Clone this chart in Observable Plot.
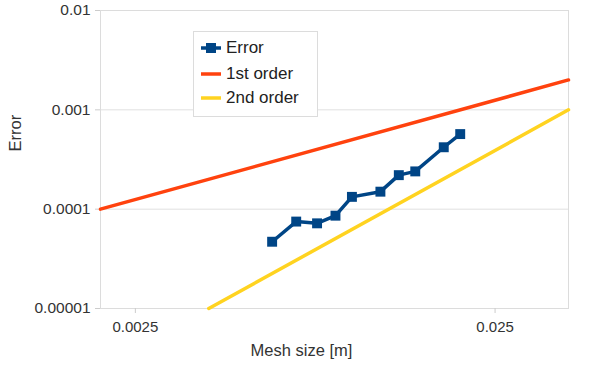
<!DOCTYPE html>
<html><head><meta charset="utf-8">
<script src="https://cdn.jsdelivr.net/npm/d3@7"></script>
<script src="https://cdn.jsdelivr.net/npm/@observablehq/plot@0.6"></script>
<style>
body{margin:0;background:#fff;font-family:"Liberation Sans",Arial,sans-serif;}
#wrap{position:relative;width:600px;height:365px;}
#legend{position:absolute;left:193px;top:31px;width:125px;height:86px;border:1px solid #dcdcdc;background:#fff;box-sizing:border-box;font-size:17px;color:#222;}
.item{position:absolute;left:6px;height:20px;display:flex;align-items:center;}
.item svg{margin-right:4px;}
</style></head>
<body><div id="wrap"></div>
<script>
// Error data (mesh size h, error e)
const meshSize = [0.006, 0.007, 0.008, 0.009, 0.010, 0.012, 0.0135, 0.015, 0.018, 0.020];
const errorValues = [4.7e-5, 7.5e-5, 7.2e-5, 8.6e-5, 1.33e-4, 1.5e-4, 2.2e-4, 2.4e-4, 4.2e-4, 5.7e-4];
// reference slopes
const firstOrderH = [0.002, 0.04];
const firstOrderE = [1e-4, 2e-3];
const secondOrderH = [0.004, 0.04];
const secondOrderE = [1e-5, 1e-3];
// ticks
const xTicks = [0.0025, 0.025];
const xTickLabels = ["0.0025", "0.025"];
const yTicks = [1e-5, 1e-4, 1e-3, 1e-2];
const yTickLabels = ["0.00001", "0.0001", "0.001", "0.01"];
const seriesNames = ["Error", "1st order", "2nd order"];
const seriesColors = ["#004586", "#ff420e", "#ffd320"];

const errData = meshSize.map((h, i) => ({h, e: errorValues[i]}));
const first = firstOrderH.map((h, i) => ({h, e: firstOrderE[i]}));
const second = secondOrderH.map((h, i) => ({h, e: secondOrderE[i]}));

function labeler(ticks, labels) {
  return d => {
    let best = 0;
    ticks.forEach((t, i) => { if (Math.abs(Math.log(t) - Math.log(d)) < Math.abs(Math.log(ticks[best]) - Math.log(d))) best = i; });
    return labels[best];
  };
}

const chart = Plot.plot({
  width: 600, height: 365,
  marginLeft: 100, marginRight: 32, marginTop: 10, marginBottom: 57,
  style: {fontFamily: "Liberation Sans, Arial, sans-serif", fontSize: "13px", color: "#333", background: "#fff"},
  x: {type: "log", domain: [0.002, 0.04]},
  y: {type: "log", domain: [1e-5, 1e-2]},
  marks: [
    Plot.gridY(yTicks, {stroke: "#e0e0e0", strokeOpacity: 1}),
    Plot.frame({stroke: "#dcdcdc"}),
    Plot.axisX({ticks: xTicks, tickFormat: labeler(xTicks, xTickLabels), tickSize: 5, tickPadding: 8, stroke: "#cccccc", fill: "#333", fontSize: 15, label: null}),
    Plot.axisY({ticks: yTicks, tickFormat: labeler(yTicks, yTickLabels), tickSize: 5, tickPadding: 5, stroke: "#cccccc", fill: "#333", fontSize: 15.5, label: null}),
    Plot.line(first, {x: "h", y: "e", stroke: seriesColors[1], strokeWidth: 3.5}),
    Plot.line(second, {x: "h", y: "e", stroke: seriesColors[2], strokeWidth: 3.5}),
    Plot.line(errData, {x: "h", y: "e", stroke: seriesColors[0], strokeWidth: 3.5}),
    Plot.dot(errData, {x: "h", y: "e", symbol: "square", r: 5.6, fill: seriesColors[0], stroke: "none"}),
    Plot.text(["Mesh size [m]"], {frameAnchor: "bottom", dy: 47, dx: -33, fontSize: 16.5, fill: "#333"}),
    Plot.text(["Error"], {frameAnchor: "left", dx: -85, dy: -8, rotate: -90, fontSize: 16.5, fill: "#333"})
  ]
});
const wrap = document.getElementById("wrap");
wrap.appendChild(chart);

const legend = document.createElement("div");
legend.id = "legend";
const tops = [6, 32, 56];
seriesNames.forEach((name, i) => {
  const it = document.createElement("div");
  it.className = "item";
  it.style.top = tops[i] + "px";
  const sw = i === 0
    ? `<svg width="22" height="14"><line x1="1" y1="7" x2="21" y2="7" stroke="${seriesColors[i]}" stroke-width="3.5"/><rect x="6" y="2" width="10" height="10" fill="${seriesColors[i]}"/></svg>`
    : `<svg width="22" height="14"><line x1="1" y1="7" x2="21" y2="7" stroke="${seriesColors[i]}" stroke-width="3.5"/></svg>`;
  it.innerHTML = sw + `<span>${name}</span>`;
  legend.appendChild(it);
});
wrap.appendChild(legend);
</script>
</body></html>
